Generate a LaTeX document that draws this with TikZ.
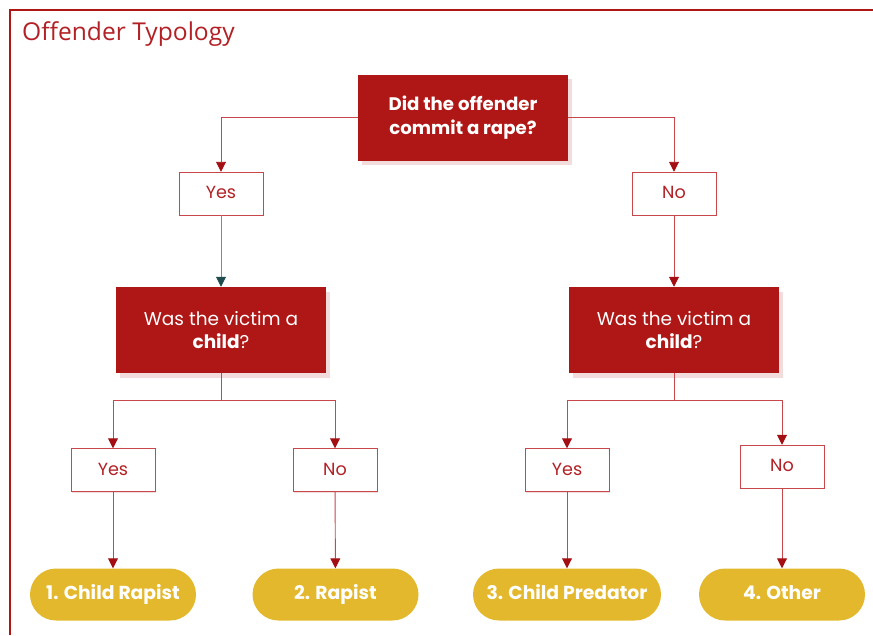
\documentclass[tikz,border=0pt]{standalone}
\usepackage{fontspec}
\setmainfont{Poppins}
\newfontfamily\titlefont{Open Sans}
\usepackage{tikz}
\usetikzlibrary{arrows.meta}
\usetikzlibrary{shadows}
\definecolor{boxred}{HTML}{AF1616}
\definecolor{linered}{HTML}{C8474A}
\definecolor{tipred}{HTML}{A30F12}
\definecolor{textred}{HTML}{B32025}
\definecolor{gold}{HTML}{E4B82C}
\definecolor{shadowpink}{HTML}{F3DCDC}
\definecolor{tealline}{HTML}{6B9396}
\definecolor{tealtip}{HTML}{1F4D4F}

\begin{document}
\begin{tikzpicture}[x=0.03cm, y=-0.03cm,
	question/.style={rectangle, fill=boxred, text=white, align=center, minimum width=6.3cm, minimum height=2.58cm, font=\fontsize{15.8}{20}\selectfont, drop shadow={fill=shadowpink, opacity=1, shadow xshift=3pt, shadow yshift=-4pt}},
	answer/.style={rectangle, draw=linered, fill=white, text=textred, minimum width=2.52cm, minimum height=1.29cm, text height=0.9em, text depth=0em, font=\fontsize{15}{18}\selectfont, drop shadow={fill=shadowpink, opacity=1, shadow xshift=1.2pt, shadow yshift=-1.2pt}},
	outcome/.style={rectangle, rounded corners=0.78cm, fill=gold, text=white, minimum width=4.98cm, minimum height=1.56cm, text height=0.9em, text depth=0em, font=\bfseries\fontsize{16}{19}\selectfont},
	conn/.style={draw=linered, line width=0.8pt},
	arr/.style={conn, -{Triangle[width=8.5pt, length=8.5pt, fill=tipred, color=tipred]}}]
		\useasboundingbox (0,0) rectangle (873,635);

		% frame and title
		\draw[boxred, line width=1.8pt] (10,635) -- (10,10) -- (873,10);
		\node[anchor=base west, inner sep=0pt, text=textred, font=\titlefont\fontsize{21}{24}\selectfont] (title) at (22,40) {Offender Typology};

		% questions
		\node[question, font=\bfseries\fontsize{15.5}{20}\selectfont] (q1) at (463,117.5) {Did the offender\\commit a rape?};
		\node[question] (q2l) at (221,330) {Was the victim a\\\textbf{child}?};
		\node[question] (q2r) at (674,330) {Was the victim a\\\textbf{child}?};

		% answers
		\node[answer] (yes1) at (221,193.5) {Yes};
		\node[answer] (no1) at (674,193.5) {No};
		\node[answer] (yes2) at (113,470) {Yes};
		\node[answer] (no2) at (335,470) {No};
		\node[answer] (yes3) at (567,470) {Yes};
		\node[answer] (no3) at (782,466.5) {No};

		% outcomes
		\node[outcome] (t1) at (113,594.5) {1. Child Rapist};
		\node[outcome] (t2) at (335.5,594.5) {2. Rapist};
		\node[outcome, minimum width=5.64cm] (t3) at (567,594.5) {3. Child Predator};
		\node[outcome] (t4) at (782,594.5) {4. Other};

		% split points
		\coordinate (sl) at (221,400);
		\coordinate (sr) at (674,400);

		% connectors
		\draw[arr] (q1.west) -| (yes1.north);
		\draw[arr] (q1.east) -| (no1.north);
		\draw[conn, draw=tealline, -{Triangle[width=8.5pt, length=8.5pt, fill=tealtip, color=tealtip]}] (yes1) -- (q2l);
		\draw[arr] (no1) -- (q2r);
		\draw[conn] (q2l.south) -- (sl);
		\draw[arr] (sl) -| (yes2.north);
		\draw[arr] (sl) -| (no2.north);
		\draw[conn] (q2r.south) -- (sr);
		\draw[arr] (sr) -| (yes3.north);
		\draw[arr] (sr) -| (no3.north);
		\draw[arr] (yes2) -- (t1);
		\draw[arr] (no2) -- (t2);
		\draw[arr] (yes3) -- (t3);
		\draw[arr] (no3) -- (t4);
	\end{tikzpicture}
\end{document}
